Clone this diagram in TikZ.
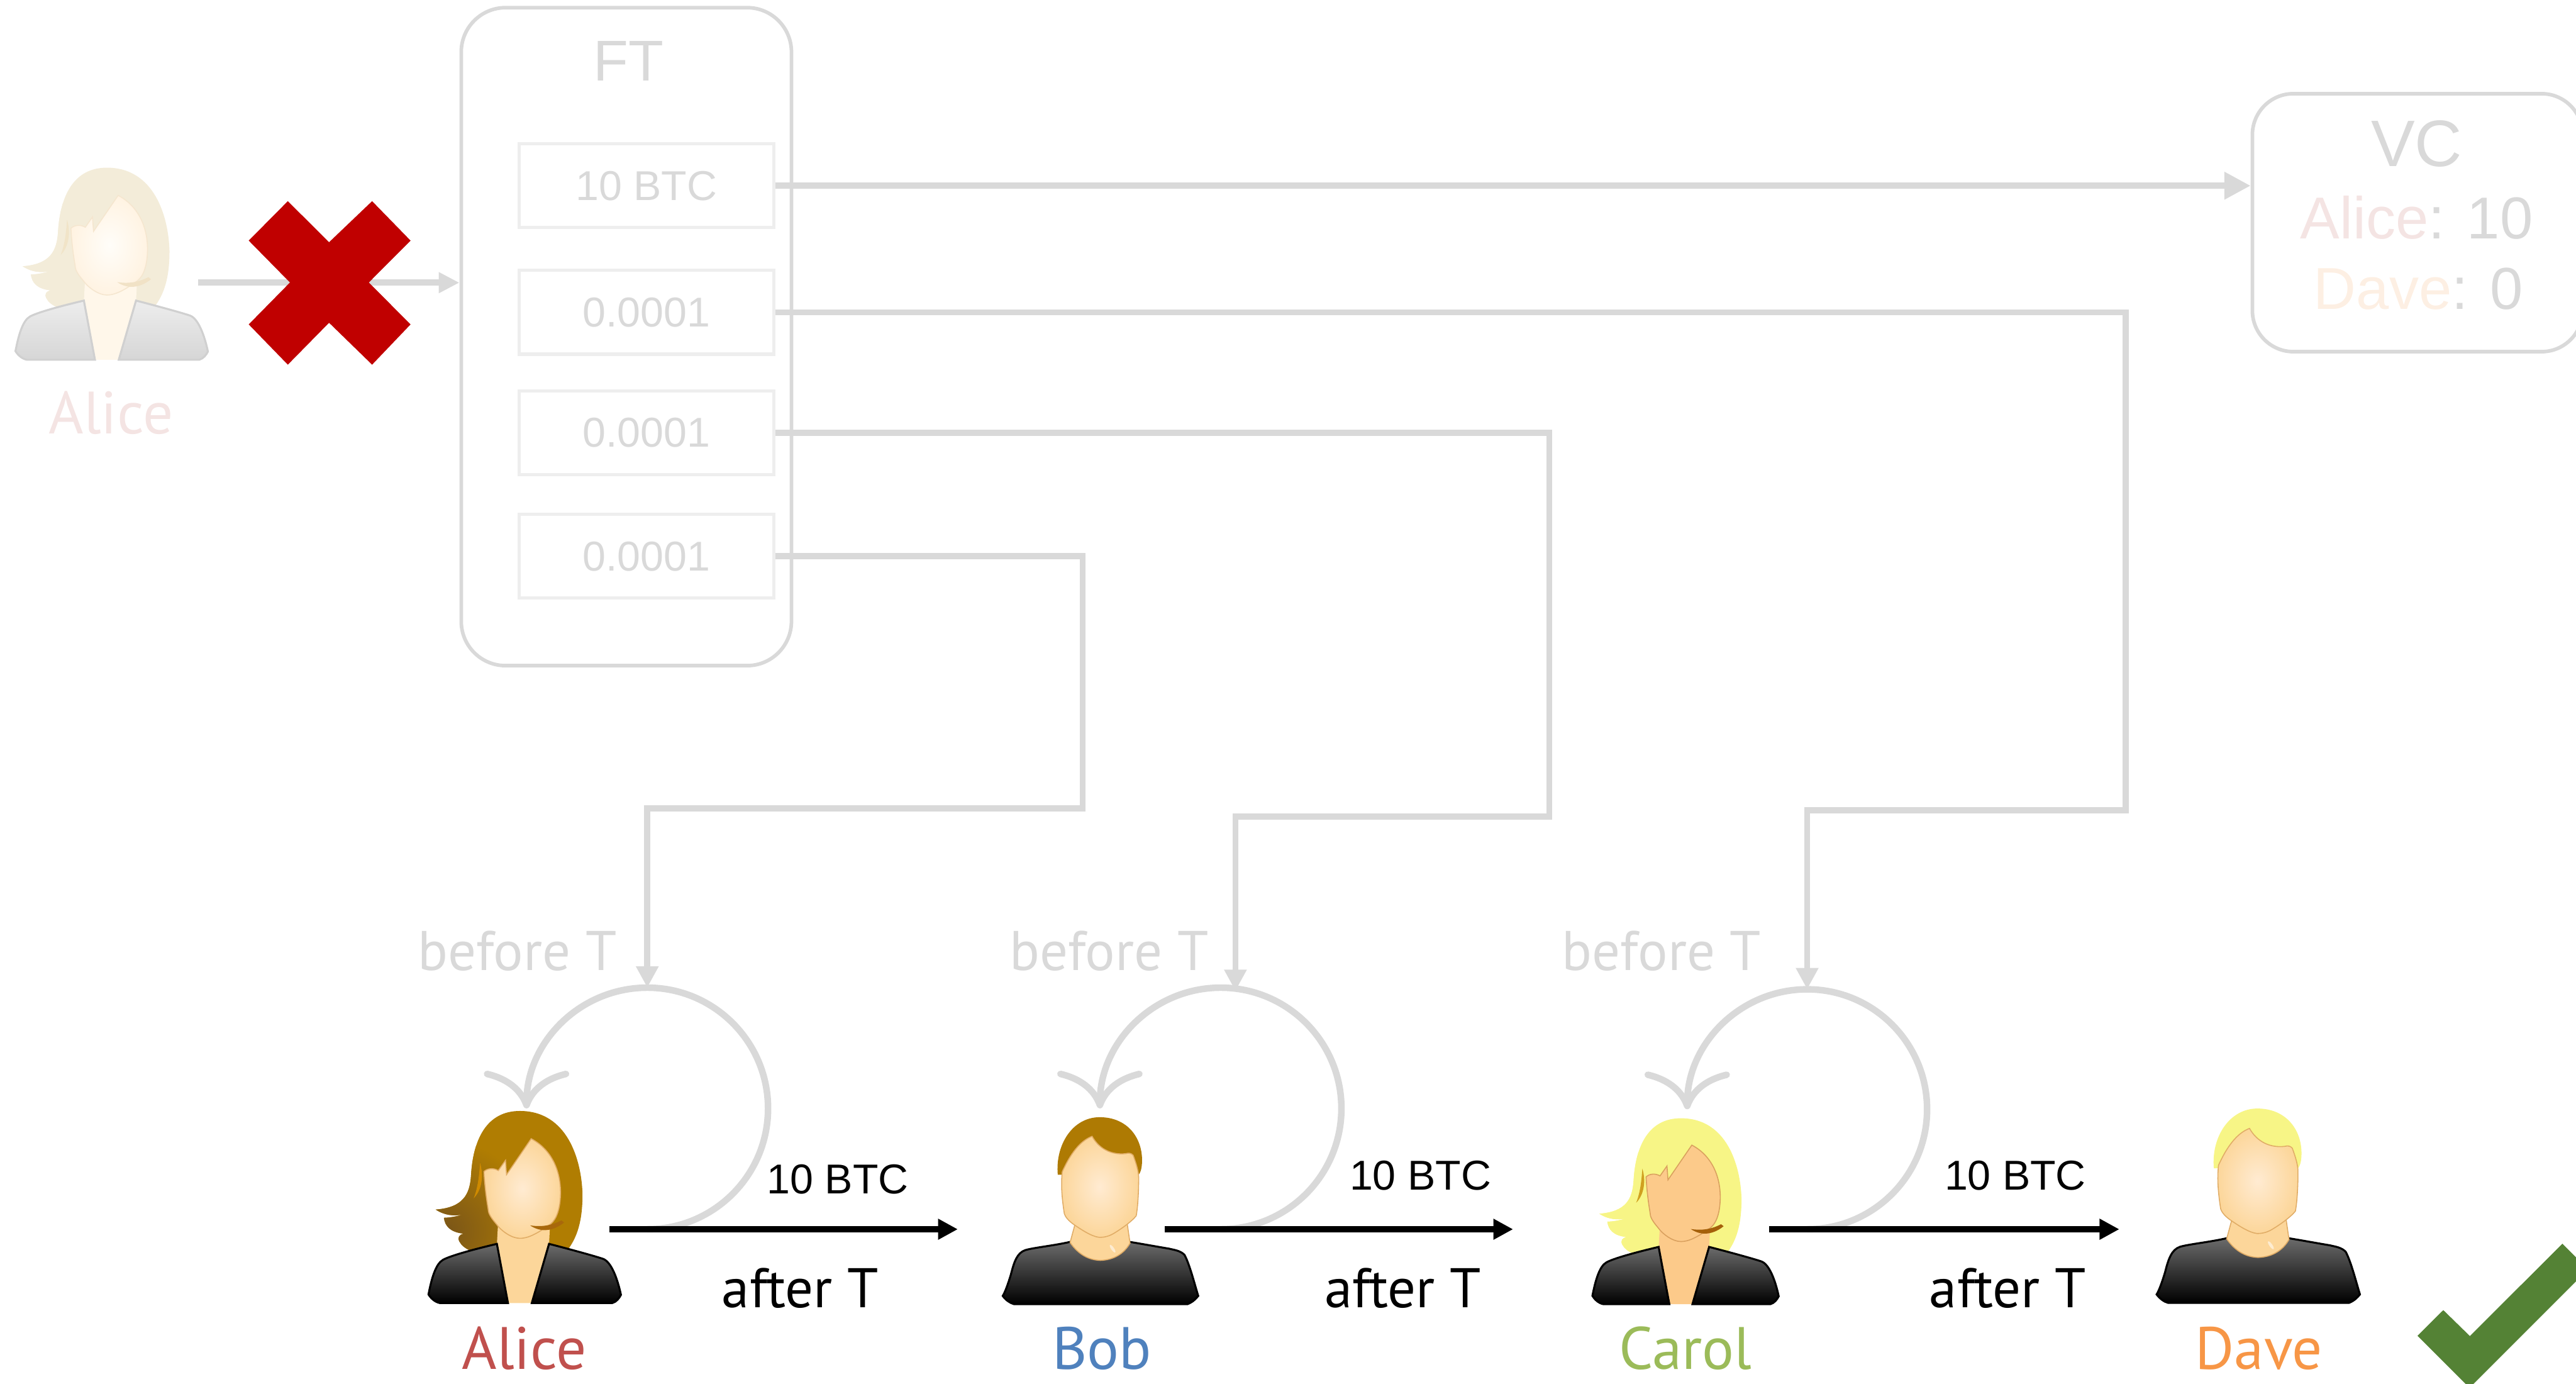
\documentclass[tikz,border=0pt]{standalone}
\usepackage{fontspec}
\usetikzlibrary{arrows.meta}
\newfontfamily\helv{Liberation Sans}
\newfontfamily\hum{PT Sans}

\definecolor{lineg}{HTML}{D9D9D9}
\definecolor{slotline}{HTML}{EEEEEE}
\definecolor{xred}{HTML}{C00000}
\definecolor{okgreen}{HTML}{548235}
\definecolor{nameA}{HTML}{C0504D}
\definecolor{nameB}{HTML}{4F81BD}
\definecolor{nameC}{HTML}{9BBB59}
\definecolor{nameD}{HTML}{F79646}
\definecolor{paleA}{HTML}{F4E4E3}
\definecolor{paleD}{HTML}{FDEFE3}
\definecolor{brownhair}{HTML}{B07D02}
\definecolor{blondhair}{HTML}{F7F586}
\definecolor{skintone}{HTML}{FCD69A}
\definecolor{skinlight}{HTML}{FFEBD2}
\definecolor{skinline}{HTML}{E0AC66}
\definecolor{warmskin}{HTML}{FCCA8A}
\definecolor{suittop}{HTML}{6B6B6B}

% default palette slots used by the avatars
\colorlet{hair}{brownhair}\colorlet{hairdark}{brownhair}\colorlet{neck}{skintone}
\colorlet{fin}{skinlight}\colorlet{fout}{skintone}\colorlet{fline}{skinline}
\colorlet{jtop}{suittop}\colorlet{jbot}{black}\colorlet{jline}{black}
\colorlet{strand}{brownhair}\colorlet{lock}{brownhair}

% outline of the long hair, shared by the fill and the clip
\newcommand{\longhair}{(490,65) .. controls (330,65) and (262,200) .. (252,380)
      .. controls (246,470) and (215,535) .. (80,545)
      .. controls (125,575) and (175,578) .. (215,568)
      .. controls (180,580) and (140,585) .. (120,585)
      .. controls (125,625) and (150,655) .. (215,662)
      .. controls (195,668) and (185,680) .. (195,700)
      .. controls (205,720) and (225,735) .. (250,745)
      -- (720,745)
      .. controls (770,680) and (795,600) .. (795,470)
      .. controls (790,300) and (720,65) .. (490,65) -- cycle}

% faceless avatar with long hair and an open jacket; #1 origin, #2 scale
\newcommand{\drawwoman}[2]{%
  \begin{scope}[shift={(#1)}, scale=#2]
    \fill[hair] \longhair;
    \begin{scope}
      \clip \longhair;
      \shade[inner color=hairdark, outer color=hair] (130,650) circle[radius=440];
    \end{scope}
    \fill[neck] (385,590) -- (378,715) -- (432,1000) -- (548,1000) -- (632,715) -- (638,590) -- cycle;
    \shade[top color=jtop, bottom color=jbot, draw=jline, line width=0.6pt]
      (378,712) -- (432,1000) -- (100,1000) .. controls (75,995) and (55,975) .. (45,958)
      .. controls (60,880) and (80,810) .. (115,790) .. controls (150,770) and (260,740) .. (378,712) -- cycle;
    \shade[top color=jtop, bottom color=jbot, draw=jline, line width=0.6pt]
      (632,712) -- (548,1000) -- (940,1000) .. controls (960,995) and (975,975) .. (982,960)
      .. controls (965,880) and (935,800) .. (895,785) .. controls (850,770) and (740,740) .. (632,712) -- cycle;
    \shade[inner color=fin, outer color=fout, draw=fline, line width=0.3pt]
      (545,200) .. controls (640,250) and (690,350) .. (688,470)
      .. controls (686,540) and (670,590) .. (640,615)
      .. controls (590,650) and (540,685) .. (490,685)
      .. controls (450,685) and (400,650) .. (375,615)
      .. controls (345,580) and (335,560) .. (335,540)
      .. controls (325,480) and (318,420) .. (315,360)
      .. controls (330,345) and (360,340) .. (385,355)
      -- (420,305) -- (425,375) -- cycle;
    \fill[strand] (296,318) .. controls (315,380) and (305,450) .. (265,490)
      .. controls (285,440) and (292,380) .. (296,318) -- cycle;
    \fill[lock] (540,622) .. controls (580,650) and (640,660) .. (705,608)
      -- (692,598) .. controls (640,625) and (590,630) .. (540,622) -- cycle;
  \end{scope}}

% faceless avatar with short hair and a round-necked shirt; #1 origin, #2 scale
\newcommand{\drawman}[2]{%
  \begin{scope}[shift={(#1)}, scale=#2]
    \fill[hair] (318,345) .. controls (305,200) and (390,65) .. (522,65)
      .. controls (660,65) and (735,170) .. (728,290)
      .. controls (726,320) and (720,335) .. (712,345) -- cycle;
    \shade[top color=jtop, bottom color=jbot, draw=jline, line width=0.6pt]
      (378,672) .. controls (300,690) and (200,700) .. (160,712)
      .. controls (120,725) and (105,770) .. (90,830)
      .. controls (75,880) and (60,920) .. (50,935)
      .. controls (65,955) and (85,970) .. (105,975) -- (950,975)
      .. controls (975,965) and (990,950) .. (1002,935)
      .. controls (985,880) and (960,780) .. (935,735)
      .. controls (915,715) and (890,712) .. (860,705)
      .. controls (800,695) and (730,682) .. (668,672) -- cycle;
    \fill[neck, draw=fline, line width=0.3pt] (405,575) -- (378,675)
      .. controls (420,735) and (470,760) .. (525,762)
      .. controls (590,760) and (640,730) .. (670,678) -- (655,575) -- cycle;
    \fill[white, opacity=0.55, rotate around={-55:(585,705)}] (585,705) ellipse[x radius=22, y radius=7];
    \shade[inner color=fin, outer color=fout, draw=fline, line width=0.3pt]
      (340,330) .. controls (390,220) and (440,175) .. (485,158)
      .. controls (520,220) and (580,250) .. (650,242)
      .. controls (665,238) and (675,240) .. (685,250)
      .. controls (700,290) and (712,330) .. (712,360)
      .. controls (712,430) and (708,500) .. (700,545)
      .. controls (680,570) and (640,600) .. (600,625)
      .. controls (570,645) and (545,650) .. (520,650)
      .. controls (480,645) and (430,610) .. (400,590)
      .. controls (370,570) and (355,550) .. (350,535)
      .. controls (340,470) and (332,400) .. (340,330) -- cycle;
  \end{scope}}

\begin{document}
\begin{tikzpicture}[x=0.5pt, y=-0.5pt,
  conn/.style={draw=lineg, line width=1.85pt},
  conntip/.style={-{Triangle[length=6.5pt,width=6.5pt]}},
  pay/.style={draw=black, line width=2pt, -{Triangle[length=6pt,width=6pt]}},
  selfloop/.style={draw=lineg, line width=2pt, line cap=round,
    -{Computer Modern Rightarrow[length=11.5pt,width=26pt]}},
  slot/.style={draw=slotline, line width=1pt, minimum width=77.5pt, minimum height=25.5pt,
    inner sep=0pt, text=lineg, font=\helv\fontsize{12.7pt}{15pt}\selectfont},
  panel/.style={draw=lineg, line width=1.1pt, inner sep=0pt},
  sumtext/.style={anchor=base, inner sep=0pt, font=\helv\fontsize{12.7pt}{15pt}\selectfont},
  whentext/.style={anchor=base, inner sep=0pt, font=\hum\fontsize{17pt}{20pt}\selectfont},
  nametext/.style={anchor=base, inner sep=0pt, font=\hum\fontsize{18.2pt}{22pt}\selectfont}
]
\useasboundingbox (0,0) rectangle (1568,842);

% ---- funding transaction and its outputs
\node[panel, minimum width=100.5pt, minimum height=200.2pt, rounded corners=13.5pt] (ft) at (381.25,204.85) {};
\node[anchor=base, inner sep=0pt, text=lineg, font=\helv\fontsize{17.5pt}{20pt}\selectfont] (ftname) at (382.5,49.3) {FT};
\node[slot] (b1) at (393.5,113) {10 BTC};
\node[slot] (b2) at (393.5,190) {0.0001};
\node[slot] (b3) at (393.5,263.3) {0.0001};
\node[slot] (b4) at (393.5,338.5) {0.0001};

% ---- virtual channel state
\node[panel, minimum width=100.5pt, minimum height=78.5pt, rounded corners=12.5pt] (vc) at (1471.5,135.5) {};
\node[anchor=base, inner sep=0pt, text=lineg, font=\helv\fontsize{20pt}{24pt}\selectfont] (vcname) at (1471,101.2) {VC};
\node[anchor=base, inner sep=0pt, text=lineg, font=\helv\fontsize{18pt}{22pt}\selectfont] (vcalice) at (1471,145.3) {\textcolor{paleA}{Alice}: 10};
\node[anchor=base, inner sep=0pt, text=lineg, font=\helv\fontsize{18pt}{22pt}\selectfont] (vcdave) at (1472,188.1) {\textcolor{paleD}{Dave}: 0};

\draw[conn, -{Triangle[length=8pt,width=8pt]}] (b1.east) -- (b1.east -| vc.west);

% ---- faded Alice who can no longer fund
\begin{scope}
  \definecolor{hair}{HTML}{F3ECD9}\definecolor{hairdark}{HTML}{F3ECD9}
  \definecolor{neck}{HTML}{FFF7EA}\definecolor{fin}{HTML}{FFFDF9}\definecolor{fout}{HTML}{FFF3E2}
  \definecolor{fline}{HTML}{F5E6CF}\definecolor{jtop}{HTML}{EDEDED}\definecolor{jbot}{HTML}{D6D6D6}
  \definecolor{jline}{HTML}{D0D0D0}\definecolor{strand}{HTML}{F1E4C8}\definecolor{lock}{HTML}{F1E2C6}
  \drawwoman{3.8,93.9}{0.125}
\end{scope}
\node[nametext, text=paleA] (oldname) at (67.5,264) {Alice};
\coordinate (oldout) at (120.6,172);
\draw[conn, -{Triangle[length=6.3pt,width=6pt]}] (oldout) -- (oldout -| ft.west);
\fill[xred] (151.4,146.4) -- (175.2,122.4) -- (200.3,147.4) -- (226.5,122.4) -- (249.9,146.4)
  -- (224.5,171.9) -- (249.9,197.4) -- (226.5,221.9) -- (200.3,196.4) -- (175.2,221.9)
  -- (151.4,197.4) -- (176.5,171.9) -- cycle;

% ---- the four parties
\begin{scope}
  \definecolor{hairdark}{HTML}{7A5518}
  \definecolor{strand}{HTML}{CF8A00}\definecolor{lock}{HTML}{A8680C}
  \drawwoman{255.2,667.9}{0.125}
\end{scope}
\begin{scope}
  \definecolor{hair}{HTML}{AE7A03}
  \drawman{604.1,671.7}{0.125}
\end{scope}
\begin{scope}
  \colorlet{hair}{blondhair}\colorlet{hairdark}{blondhair}
  \colorlet{neck}{warmskin}\colorlet{fin}{warmskin}\colorlet{fout}{warmskin}
  \definecolor{fline}{HTML}{D9A05E}\definecolor{strand}{HTML}{D0A020}\definecolor{lock}{HTML}{A5600A}
  \drawwoman{963.85,672.6}{0.121}
\end{scope}
\begin{scope}
  \colorlet{hair}{blondhair}
  \drawman{1306.2,666.1}{0.13}
\end{scope}

\node[nametext, text=nameA] (nA) at (319,833) {Alice};
\node[nametext, text=nameB] (nB) at (670.8,833) {Bob};
\node[nametext, text=nameC] (nC) at (1026,833) {Carol};
\node[nametext, text=nameD] (nD) at (1375,833) {Dave};

% ---- loop anchors (bottom start and top entry of each self-loop)
\coordinate (aS) at (394,748);  \coordinate (aT) at (394,601);
\coordinate (bS) at (743,748);  \coordinate (bT) at (752,603);
\coordinate (cS) at (1100,748); \coordinate (cT) at (1100,602);

% ---- timeout outputs feeding each party
\draw[conn, conntip] (b4.east) -| (659,492) -| (aT);
\draw[conn, conntip] (b3.east) -| (943,497) -| (bT);
\draw[conn, conntip] (b2.east) -| (1294,493) -| (cT);

\draw[selfloop] (aS) arc[start angle=90, end angle=-180, radius=73.5];
\draw[selfloop] (bS) arc[start angle=90, end angle=-180, radius=73.5];
\draw[selfloop] (cS) arc[start angle=90, end angle=-180, radius=73];

\node[whentext, text=lineg] (wA) at (314.8,590.5) {before T};
\node[whentext, text=lineg] (wB) at (675,590.5) {before T};
\node[whentext, text=lineg] (wC) at (1011.4,590.5) {before T};

% ---- payments along the route
\coordinate (pA0) at (371,748);  \coordinate (pA1) at (583,748);
\coordinate (pB0) at (709,748);  \coordinate (pB1) at (921,748);
\coordinate (pC0) at (1077,748); \coordinate (pC1) at (1290,748);
\draw[pay] (pA0) -- (pA1);
\draw[pay] (pB0) -- (pB1);
\draw[pay] (pC0) -- (pC1);

\node[sumtext] (sA) at (510,726.5) {10 BTC};
\node[sumtext] (sB) at (864.6,724.2) {10 BTC};
\node[sumtext] (sC) at (1226.7,724.2) {10 BTC};
\node[whentext] (tA) at (487,795.5) {after T};
\node[whentext] (tB) at (854,795.5) {after T};
\node[whentext] (tC) at (1222,795.5) {after T};

% ---- success mark
\fill[okgreen] (1471.5,812.8) -- (1487.2,797.2) -- (1503.4,813) -- (1559.7,756.8)
  -- (1575.3,772.4) -- (1503.2,844.5) -- cycle;
\end{tikzpicture}
\end{document}
